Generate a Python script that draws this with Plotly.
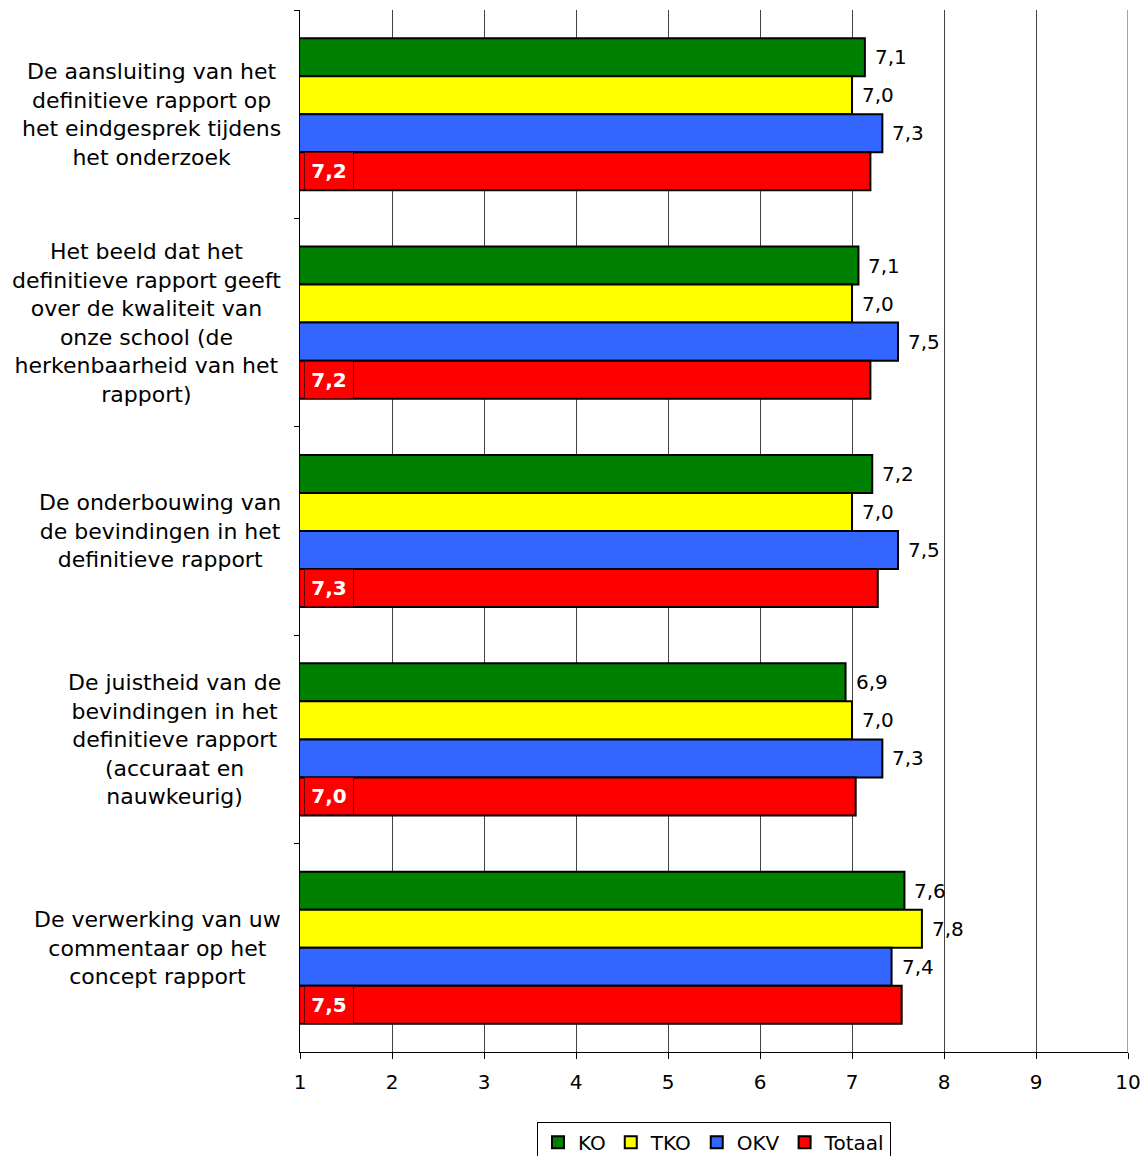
import plotly.graph_objects as go

categories = [
    "De aansluiting van het<br>definitieve rapport op<br>het eindgesprek tijdens<br>het onderzoek",
    "Het beeld dat het<br>definitieve rapport geeft<br>over de kwaliteit van<br>onze school (de<br>herkenbaarheid van het<br>rapport)",
    "De onderbouwing van<br>de bevindingen in het<br>definitieve rapport",
    "De juistheid van de<br>bevindingen in het<br>definitieve rapport<br>(accuraat en<br>nauwkeurig)",
    "De verwerking van uw<br>commentaar op het<br>concept rapport",
]
ko = [7.14, 7.07, 7.22, 6.93, 7.57]
tko = [7.0, 7.0, 7.0, 7.0, 7.76]
okv = [7.33, 7.5, 7.5, 7.33, 7.43]
totaal = [7.2, 7.2, 7.28, 7.04, 7.54]
x_ticks = [1, 2, 3, 4, 5, 6, 7, 8, 9, 10]

FONT = "Verdana, DejaVu Sans, sans-serif"
series = [("KO", ko, "#008000"), ("TKO", tko, "#FFFF00"), ("OKV", okv, "#3366FF"), ("Totaal", totaal, "#FF0000")]
group = 0.73
bw = group / 4


def fmt(v):
    return ("%.1f" % v).replace(".", ",")


fig = go.Figure()
annotations = []
for k, (name, vals, col) in enumerate(series):
    fig.add_trace(go.Bar(
        name=name, y=categories, x=vals, orientation="h",
        marker=dict(color=col, line=dict(color="black", width=2)),
    ))
    offset = (k - 1.5) * bw
    for i, v in enumerate(vals):
        if name != "Totaal":
            annotations.append(dict(
                x=v, xref="x", y=i + offset, yref="y", text=fmt(v), showarrow=False,
                xanchor="left", yanchor="middle", xshift=8,
                font=dict(family=FONT, size=20, color="black"),
            ))
        else:
            annotations.append(dict(
                x=1, xref="x", y=i + offset, yref="y",
                text="<b>%s</b>" % fmt(v), showarrow=False,
                xanchor="left", yanchor="middle", xshift=4,
                bgcolor="#FF0000", bordercolor="#660000", borderwidth=1, borderpad=3,
                width=42, height=30,
                font=dict(family=FONT, size=20, color="white"),
            ))

for i, lab in enumerate(categories):
    annotations.append(dict(
        x=-0.0205, xref="paper", y=i, yref="y", text=lab, showarrow=False,
        xanchor="right", yanchor="middle", align="center",
        font=dict(family=FONT, size=22, color="black"),
    ))

fig.update_layout(
    width=1144, height=1156,
    margin=dict(l=300, r=16, t=10, b=104, autoexpand=False),
    paper_bgcolor="white", plot_bgcolor="white",
    barmode="group", bargap=1 - group, bargroupgap=0,
    separators=",.",
    font=dict(family=FONT, size=20, color="black"),
    showlegend=True,
    legend=dict(orientation="h", x=0.5, xanchor="center", y=-0.067, yanchor="top",
                bordercolor="black", borderwidth=1, font=dict(family=FONT, size=20),
                traceorder="normal", itemwidth=30),
    annotations=annotations,
    shapes=[dict(type="line", xref="x", yref="paper", x0=x_ticks[-1], x1=x_ticks[-1], y0=0, y1=1,
                 line=dict(color="#444", width=1), layer="below")],
)
fig.update_xaxes(range=[1, 10], tickvals=x_ticks, showgrid=True, gridcolor="#444", gridwidth=1,
                 showline=True, linecolor="black", linewidth=1, ticks="outside", ticklen=6,
                 tickcolor="black", zeroline=False, tickfont=dict(family=FONT, size=20),
                 ticklabelstandoff=6, automargin=False)
fig.update_yaxes(autorange="reversed", showticklabels=False, tickson="boundaries", ticks="outside",
                 ticklen=5, tickcolor="black", showgrid=False, showline=True, linecolor="black",
                 linewidth=1, automargin=False)

fig.write_html("out.html")
